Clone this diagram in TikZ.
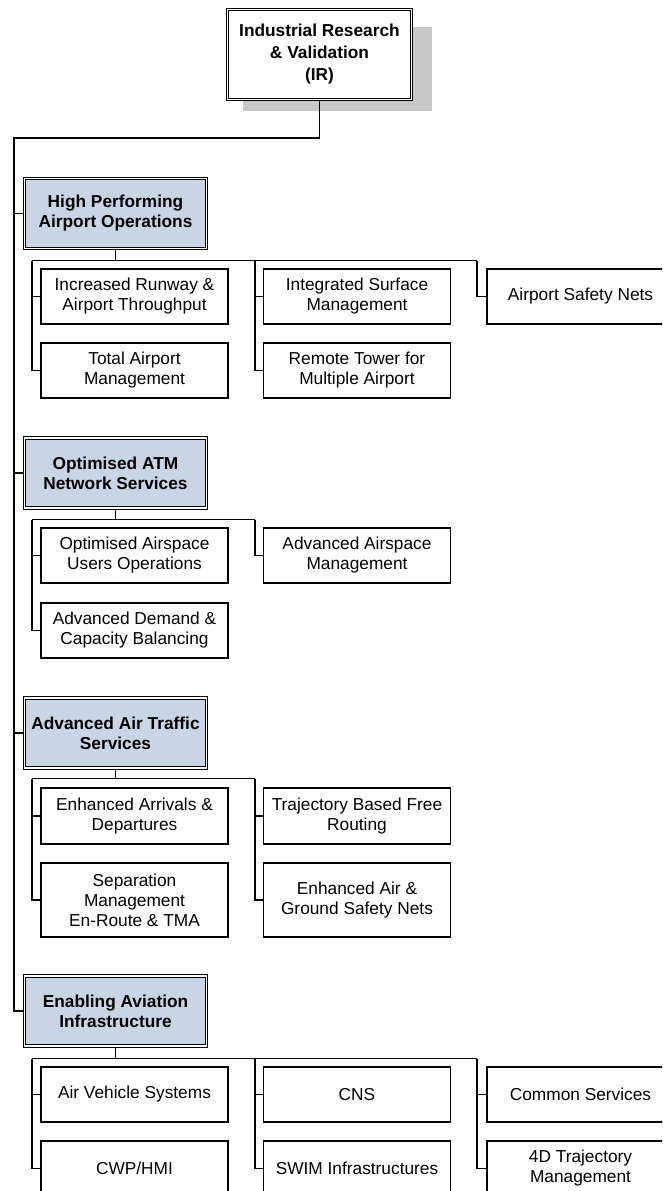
\documentclass[tikz,border=0pt]{standalone}
\usepackage{fontspec}
\setmainfont{Liberation Sans}
\usepackage{xcolor}
\usepackage{tikz}
\usetikzlibrary{calc}

\definecolor{areablue}{RGB}{201,213,228}
\definecolor{shadowgray}{RGB}{200,200,200}

\begin{document}
\begin{tikzpicture}[x=1pt,y=-1pt,line width=1.5pt]
    \tikzstyle{rootbox}=[draw,double,double distance=1.5pt,line width=1pt,fill=white,minimum width=184pt,minimum height=90pt,inner sep=0pt,align=center,font=\fontsize{17.3}{22}\selectfont\bfseries]
    \tikzstyle{areabox}=[draw,double,double distance=1.5pt,line width=1pt,fill=areablue,minimum width=182pt,minimum height=70pt,inner sep=0pt,align=center,font=\fontsize{17.3}{20}\selectfont\bfseries]
    \tikzstyle{itembox}=[draw,line width=1.5pt,fill=white,minimum width=187pt,minimum height=55pt,inner sep=0pt,align=center,font=\fontsize{17.3}{20}\selectfont]

    \path[use as bounding box,clip] (0,0) rectangle (662,1191);

    % root with its shadow
    \fill[shadowgray] (243,27) rectangle (432,111);
    \node[rootbox] (ir) at (319.5,54.5) {Industrial Research\\\& Validation\\(IR)};

    % areas
    \node[areabox] (apo) at (115.5,213.5) {High Performing\\Airport Operations};
    \node[areabox] (nos) at (115.5,473) {Optimised ATM\\Network Services};
    \node[areabox] (ats) at (115.5,733) {Advanced Air Traffic\\Services};
    \node[areabox] (eai) at (115.5,1011) {Enabling Aviation\\Infrastructure};

    \node[itembox] (apo11) at (134.5,296.5) {Increased Runway \&\\Airport Throughput};
    \node[itembox] (apo12) at (134.5,370.5) {Total Airport\\Management};
    \node[itembox] (apo21) at (357,296.5) {Integrated Surface\\Management};
    \node[itembox] (apo22) at (357,370.5) {Remote Tower for\\Multiple Airport};
    \node[itembox] (apo31) at (580.5,296.5) {Airport Safety Nets};

    \node[itembox] (nos11) at (134.5,555.5) {Optimised Airspace\\Users Operations};
    \node[itembox] (nos12) at (134.5,630.5) {Advanced Demand \&\\Capacity Balancing};
    \node[itembox] (nos21) at (357,555.5) {Advanced Airspace\\Management};

    \node[itembox,minimum height=56pt] (ats11) at (134.5,816) {Enhanced Arrivals \&\\Departures};
    \node[itembox,minimum height=74pt] (ats12) at (134.5,900) {Separation\\Management\\En-Route \& TMA};
    \node[itembox,minimum height=56pt] (ats21) at (357,816) {Trajectory Based Free\\Routing};
    \node[itembox,minimum height=74pt] (ats22) at (357,900) {Enhanced Air \&\\Ground Safety Nets};

    \node[itembox] (eai11) at (134.5,1094.5) {Air Vehicle Systems};
    \node[itembox] (eai12) at (134.5,1168.5) {CWP/HMI};
    \node[itembox] (eai21) at (357,1094.5) {CNS};
    \node[itembox] (eai22) at (357,1168.5) {SWIM Infrastructures};
    \node[itembox] (eai31) at (580.5,1094.5) {Common Services};
    \node[itembox] (eai32) at (580.5,1168.5) {4D Trajectory\\Management};

    % trunk
    \coordinate (trunk) at (14,138);
    \draw (ir.south) |- (trunk) |- (eai.west);
    \foreach \a in {apo,nos,ats}
      \draw (trunk |- \a.west) -- (\a.west);

    % columns
    \coordinate (col1) at (32,0);
    \coordinate (col2) at (255,0);
    \coordinate (col3) at (477,0);

    \draw (apo.south) -- ++(0,11.5) coordinate (apobus);
    \draw (col1 |- apobus) -- (col3 |- apobus);
    \draw (col1 |- apobus) |- (apo12.west);
    \draw (col1 |- apo11.west) -- (apo11.west);
    \draw (col2 |- apobus) |- (apo22.west);
    \draw (col2 |- apo21.west) -- (apo21.west);
    \draw (col3 |- apobus) |- (apo31.west);

    \draw (nos.south) -- ++(0,11) coordinate (nosbus);
    \draw (col1 |- nosbus) -- (col2 |- nosbus);
    \draw (col1 |- nosbus) |- (nos12.west);
    \draw (col1 |- nos11.west) -- (nos11.west);
    \draw (col2 |- nosbus) |- (nos21.west);

    \draw (ats.south) -- ++(0,10) coordinate (atsbus);
    \draw (col1 |- atsbus) -- (col2 |- atsbus);
    \draw (col1 |- atsbus) |- (ats12.west);
    \draw (col1 |- ats11.west) -- (ats11.west);
    \draw (col2 |- atsbus) |- (ats22.west);
    \draw (col2 |- ats21.west) -- (ats21.west);

    \draw (eai.south) -- ++(0,12) coordinate (eaibus);
    \draw (col1 |- eaibus) -- (col3 |- eaibus);
    \draw (col1 |- eaibus) |- (eai12.west);
    \draw (col1 |- eai11.west) -- (eai11.west);
    \draw (col2 |- eaibus) |- (eai22.west);
    \draw (col2 |- eai21.west) -- (eai21.west);
    \draw (col3 |- eaibus) |- (eai32.west);
    \draw (col3 |- eai31.west) -- (eai31.west);
\end{tikzpicture}
\end{document}
